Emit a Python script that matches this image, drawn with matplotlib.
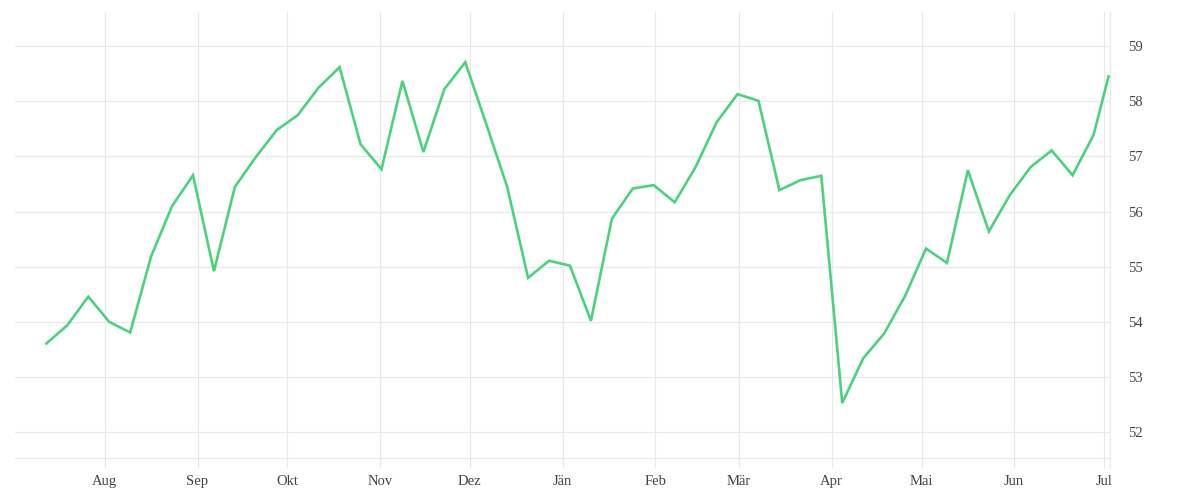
import datetime as dt

import matplotlib
matplotlib.use("Agg")
import matplotlib.pyplot as plt

# weekly readings, last one is a partial week
FIRST_WEEK = dt.datetime(2022, 7, 12, 12)
LAST_DATE = dt.datetime(2023, 7, 2, 12)
values = [
    53.61, 53.94, 54.46, 54.00, 53.81, 55.19, 56.10, 56.66, 54.92, 56.45,
    56.99, 57.48, 57.75, 58.25, 58.62, 57.22, 56.77, 58.37, 57.08, 58.22,
    58.71, 57.59, 56.45, 54.80, 55.11, 55.02, 54.02, 55.87, 56.42, 56.48,
    56.17, 56.81, 57.62, 58.13, 58.01, 56.39, 56.57, 56.65, 52.53, 53.34,
    53.79, 54.47, 55.33, 55.07, 56.75, 55.64, 56.30, 56.81, 57.11, 56.66,
    57.39, 58.45,
]
dates = [FIRST_WEEK + dt.timedelta(weeks=i) for i in range(len(values) - 1)] + [LAST_DATE]

month_ticks = [dt.date(2022, m, 1) for m in range(8, 13)] + [dt.date(2023, m, 1) for m in range(1, 8)]
month_labels = ["Aug", "Sep", "Okt", "Nov", "Dez", "Jän", "Feb", "Mär", "Apr", "Mai", "Jun", "Jul"]
y_ticks = [52, 53, 54, 55, 56, 57, 58, 59]

LINE_COLOR = "#4cd27b"
GRID_COLOR = "#e8e8e8"
TEXT_COLOR = "#444444"
FONT = ["Liberation Serif", "DejaVu Serif"]

fig = plt.figure(figsize=(12, 5), dpi=100)
ax = fig.add_axes([0.0125, 0.0837, 0.9125, 0.8923])

ax.plot(dates, values, color=LINE_COLOR, linewidth=1.9, solid_joinstyle="miter", zorder=3)

ax.set_xlim(dt.date(2022, 7, 2), dt.date(2023, 7, 3))
ax.set_ylim(51.53, 59.62)

ax.set_xticks(month_ticks)
ax.set_xticklabels(month_labels, family=FONT, fontsize=10.5, color=TEXT_COLOR)
ax.set_yticks(y_ticks)
ax.set_yticklabels([str(v) for v in y_ticks], family=FONT, fontsize=10.5, color=TEXT_COLOR)

ax.yaxis.tick_right()
ax.tick_params(axis="y", length=0, pad=13)
ax.tick_params(axis="x", length=7.2, width=0.8, color=GRID_COLOR, pad=5)

ax.grid(True, color=GRID_COLOR, linewidth=0.8, zorder=0)
ax.set_axisbelow(True)

for side in ["top", "left"]:
    ax.spines[side].set_visible(False)
for side in ["bottom", "right"]:
    ax.spines[side].set_color(GRID_COLOR)
    ax.spines[side].set_linewidth(0.8)
# right edge line runs down like the tick marks
ax.plot([1, 1], [-0.0224, 0], transform=ax.transAxes, color=GRID_COLOR,
        linewidth=0.8, clip_on=False)

fig.savefig("out.png", dpi=100)
